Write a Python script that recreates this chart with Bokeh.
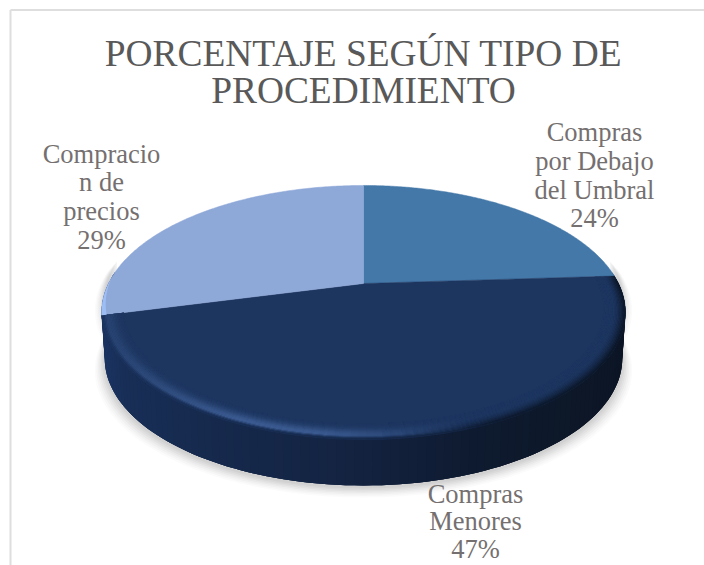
import numpy as np
from bokeh.plotting import figure
from bokeh.models import Range1d
from bokeh.core.properties import value
from bokeh.embed import file_html
from bokeh.resources import INLINE

title_lines = ["PORCENTAJE SEGÚN TIPO DE", "PROCEDIMIENTO"]
categories = ["Compras por Debajo del Umbral", "Compras Menores", "Compracion de precios"]
values = [24, 47, 29]
label_lines = [["Compras", "por Debajo", "del Umbral"], ["Compras", "Menores"], ["Compracio", "n de", "precios"]]
slice_colors = ["#4478a8", "#1d3660", "#8ea8d8"]

W, H = 704, 565
FONT = value("Liberation Serif")
p = figure(width=W, height=H, output_backend="svg", toolbar_location=None,
           x_range=Range1d(0, W), y_range=Range1d(H, 0), min_border=0,
           outline_line_color=None, background_fill_color="white", border_fill_color="white")
p.axis.visible = False
p.grid.visible = False

# perspective disc
CX, CY, R, RY, SHIFT, K, DEPTH = 363.0, 312.0, 255.0, 127.0, 29.0, 0.228, 46.0

def proj(frac, r=1.0):
    a = 2 * np.pi * np.asarray(frac, dtype=float)
    u, v = r * np.sin(a), r * np.cos(a)
    d = 1 + K * v
    return CX + R * u / d, CY - (RY * v + SHIFT) / d

def mix(c1, c2, t):
    t = float(np.clip(t, 0, 1))
    a = [int(c1[i:i+2], 16) for i in (1, 3, 5)]
    b = [int(c2[i:i+2], 16) for i in (1, 3, 5)]
    return "#%02x%02x%02x" % tuple(int(round(x + (y - x) * t)) for x, y in zip(a, b))

# frame
p.line([10, 10], [565, 9.5], line_color="#dedede", line_width=2)
p.line([10, 704], [9.5, 9.5], line_color="#dedede", line_width=2)

fr = np.cumsum([0] + values) / sum(values)
lower = np.linspace(0.235, 0.765, 121)
rx, ry = proj(lower)

def wall_bottom(x, y):
    return CX + (x - CX) * 0.988, y + DEPTH

bx, by = wall_bottom(rx, ry)

# soft shadow under the wall
for grow, alpha in [(10, .03), (8.5, .04), (7, .05), (5.5, .06), (4, .07), (2.5, .08), (1, .09)]:
    sx = CX + (bx - CX) * (1 + grow / 262)
    sy = by + grow * 1.0 + 2
    p.patch(np.r_[sx, sx[::-1]], np.r_[sy, sy[::-1] - 60], fill_color="#808080", fill_alpha=alpha, line_color=None)

# wall strips: each overlaps the next so no seams show
stops_x = [103, 125, 200, 363, 480, 560, 625]
stops_c = ["#1a3360", "#182e56", "#162a4e", "#13223f", "#0e1a2f", "#0d1829", "#0c1525"]
def wall_col(x):
    i = int(np.clip(np.searchsorted(stops_x, x) - 1, 0, len(stops_x) - 2))
    return mix(stops_c[i], stops_c[i + 1], (x - stops_x[i]) / (stops_x[i + 1] - stops_x[i]))

xs, ys, cs = [], [], []
for i in range(len(lower) - 1):
    j = min(i + 3, len(lower) - 1)
    xs.append(list(rx[i:j + 1]) + list(bx[i:j + 1][::-1]))
    ys.append(list(ry[i:j + 1]) + list(by[i:j + 1][::-1]))
    cs.append(wall_col((rx[i] + rx[i + 1]) / 2))
p.patches(xs, ys, fill_color=cs, line_color=None)

# faces
for k, col in enumerate(slice_colors):
    t = np.linspace(fr[k], fr[k + 1], 160)
    fx, fy = proj(t)
    p.patch(np.r_[CX, fx], np.r_[CY - SHIFT, fy], fill_color=col, line_color=col, line_width=0.5)

# bevel on the near edge of the navy slice, outer rings over inner ones
seg = np.linspace(fr[1], fr[2], 121)
edges = np.linspace(0.92, 1.0, 17)
xs, ys, cs = [], [], []
for q in range(len(edges) - 1):
    r0, r1 = edges[q], edges[q + 1]
    rm = (r0 + r1) / 2
    sigma = 0.03 if rm < 0.98 else 0.012
    glow = np.exp(-((rm - 0.98) / sigma) ** 2)
    dark = np.clip((rm - 0.955) / 0.045, 0, 1) ** 1.5
    edge = np.clip((rm - 0.985) / 0.015, 0, 1)
    x0, y0 = proj(seg, r0)
    x1, y1 = proj(seg, r1)
    for i in range(len(seg) - 1):
        j = min(i + 3, len(seg) - 1)
        mx = (x1[i] + x1[i + 1]) / 2
        w_hi = np.clip((470 - mx) / 150, 0, 1) * (0.35 + 0.65 * np.clip((mx - 110) / 130, 0, 1))
        w_dk = np.clip((mx - 400) / 90, 0, 1)
        c = mix(slice_colors[1], "#3c5b91", glow * w_hi)
        c = mix(c, wall_col(mx), max(dark * w_dk, edge * 0.8))
        xs.append(list(x0[i:j + 1]) + list(x1[i:j + 1][::-1]))
        ys.append(list(y0[i:j + 1]) + list(y1[i:j + 1][::-1]))
        cs.append(c)
p.patches(xs, ys, fill_color=cs, line_color=None)

# pale crescent on the far-left rim of the light slice
seg = np.linspace(fr[2], fr[2] + 0.05, 30)
x0, y0 = proj(seg, 1.0)
x1, y1 = proj(seg, 1.0 - 0.018 * (1 - (seg - fr[2]) / 0.05))
p.patch(np.r_[x0, x1[::-1]], np.r_[y0, y1[::-1]], fill_color="#9dbdf5", line_color=None)

# texts
def text(x, y, s, size, color):
    p.text([x], [y], text=[s], text_font=FONT, text_font_size=size, text_color=color,
           text_align="center", text_baseline="middle")

for y, s in zip([53, 90], title_lines):
    text(363, y, s, "37.4px", "#595959")

label_pos = [(594, 131.5, 28.8), (475, 493, 27.8), (101, 153, 28.8)]
for k, (lx, ly, step) in enumerate(label_pos):
    lines = label_lines[k] + ["%d%%" % round(100 * values[k] / sum(values))]
    for j, s in enumerate(lines):
        text(lx, ly + j * step, s, "26.5px", "#757070")

open("out.html", "w").write(file_html(p, INLINE))
